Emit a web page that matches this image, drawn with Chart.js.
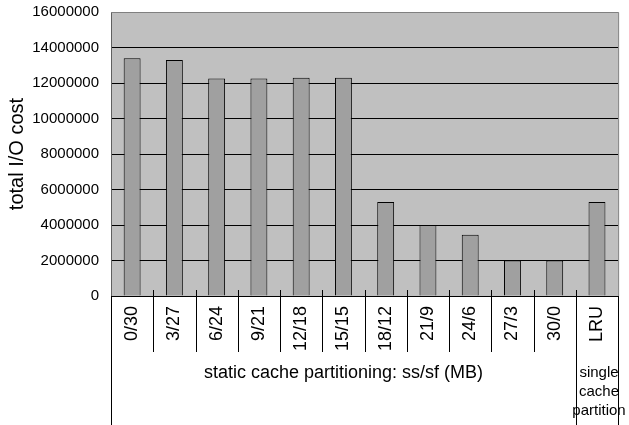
<!DOCTYPE html>
<html>
<head>
<meta charset="utf-8">
<script src="https://cdn.jsdelivr.net/npm/chart.js@4"></script>
<style>
  body { margin: 0; background: #fff; }
  canvas { display: block; }
</style>
</head>
<body>
<canvas id="ioChart" width="629" height="425"></canvas>
<script>
// categories: ss/sf split in MB, last one is plain LRU
const categories = ['0/30', '3/27', '6/24', '9/21', '12/18', '15/15', '18/12', '21/9', '24/6', '27/3', '30/0', 'LRU'];
const ioCost = [13400000, 13300000, 12250000, 12250000, 12300000, 12300000, 5300000, 4000000, 3450000, 2000000, 2000000, 5300000];
const yMax = 16000000;
const yStep = 2000000;
const groupTitle = 'static cache partitioning: ss/sf (MB)';
const lruTitle = ['single', 'cache', 'partition'];

const FONT = "'Liberation Sans', Arial, sans-serif";
Chart.defaults.font.family = FONT;
Chart.defaults.font.size = 15;
Chart.defaults.color = '#000';

// grey plot background + the separator lines under the x axis
const decorations = {
    id: 'decorations',
    beforeDraw(chart) {
        const { ctx, chartArea } = chart;
        ctx.save();
        ctx.fillStyle = '#c0c0c0';
        ctx.fillRect(chartArea.left, chartArea.top, chartArea.right - chartArea.left, chartArea.bottom - chartArea.top);
        ctx.restore();
    },
    afterDraw(chart) {
        const { ctx, chartArea } = chart;
        const x = chart.scales.x;
        const n = categories.length;
        const bottom = chart.height;
        ctx.save();
        ctx.lineWidth = 1;

        // plot frame (right and top edges)
        ctx.strokeStyle = '#808080';
        ctx.beginPath();
        ctx.moveTo(chartArea.left, chartArea.top + 0.5);
        ctx.lineTo(chartArea.right + 0.5, chartArea.top + 0.5);
        ctx.lineTo(chartArea.right + 0.5, chartArea.bottom);
        ctx.stroke();

        ctx.strokeStyle = '#000';
        for (let i = 0; i <= n; i++) {
            let px;
            if (i === 0) px = chartArea.left;
            else if (i === n) px = chartArea.right;
            else px = (x.getPixelForValue(i - 1) + x.getPixelForValue(i)) / 2;
            px = Math.round(px) + 0.5;
            let y0 = chartArea.bottom - 6;
            let y1 = chartArea.bottom + 56;
            if (i === 0 || i === n || i === n - 1) y1 = bottom;
            if (i === 0 || i === n) y0 = chartArea.bottom;
            ctx.beginPath();
            ctx.moveTo(px, y0);
            ctx.lineTo(px, y1);
            ctx.stroke();
        }

        // group captions
        ctx.fillStyle = '#000';
        ctx.textAlign = 'center';
        ctx.textBaseline = 'middle';
        ctx.font = '18px ' + FONT;
        const groupMid = (chartArea.left + (x.getPixelForValue(n - 2) + x.getPixelForValue(n - 1)) / 2) / 2;
        ctx.fillText(groupTitle, groupMid, chartArea.bottom + 77);
        ctx.font = '15px ' + FONT;
        const lruX = x.getPixelForValue(n - 1) + 2;
        lruTitle.forEach((line, k) => {
            ctx.fillText(line, lruX, chartArea.bottom + 77 + k * 19);
        });
        ctx.restore();
    }
};

new Chart(document.getElementById('ioChart'), {
    type: 'bar',
    data: {
        labels: categories,
        datasets: [{
            label: 'total I/O cost',
            data: ioCost,
            backgroundColor: '#a0a0a0',
            borderColor: '#000',
            borderWidth: 1,
            barPercentage: 0.4,
            categoryPercentage: 1
        }]
    },
    options: {
        responsive: false,
        animation: false,
        layout: { padding: { top: 12, right: 10, left: 0, bottom: 0 } },
        plugins: {
            legend: { display: false },
            tooltip: { enabled: false }
        },
        scales: {
            x: {
                grid: { display: false, drawTicks: false },
                border: { display: true, color: '#000' },
                ticks: {
                    minRotation: 90,
                    maxRotation: 90,
                    padding: 10,
                    autoSkip: false,
                    font: { size: 18 }
                },
                afterFit(scale) {
                    scale.height = 129;
                    scale.paddingTop = 0;
                }
            },
            y: {
                min: 0,
                max: yMax,
                grid: { color: '#000', drawTicks: false },
                border: { display: true, color: '#606060' },
                ticks: {
                    stepSize: yStep,
                    padding: 12,
                    callback: v => String(v)
                },
                title: {
                    display: true,
                    text: 'total I/O cost',
                    font: { size: 20 },
                    padding: { top: 5, bottom: 0 }
                },
                afterFit(scale) {
                    scale.width = 111;
                    scale.paddingTop = 0;
                }
            }
        }
    },
    plugins: [decorations]
});
</script>
</body>
</html>
